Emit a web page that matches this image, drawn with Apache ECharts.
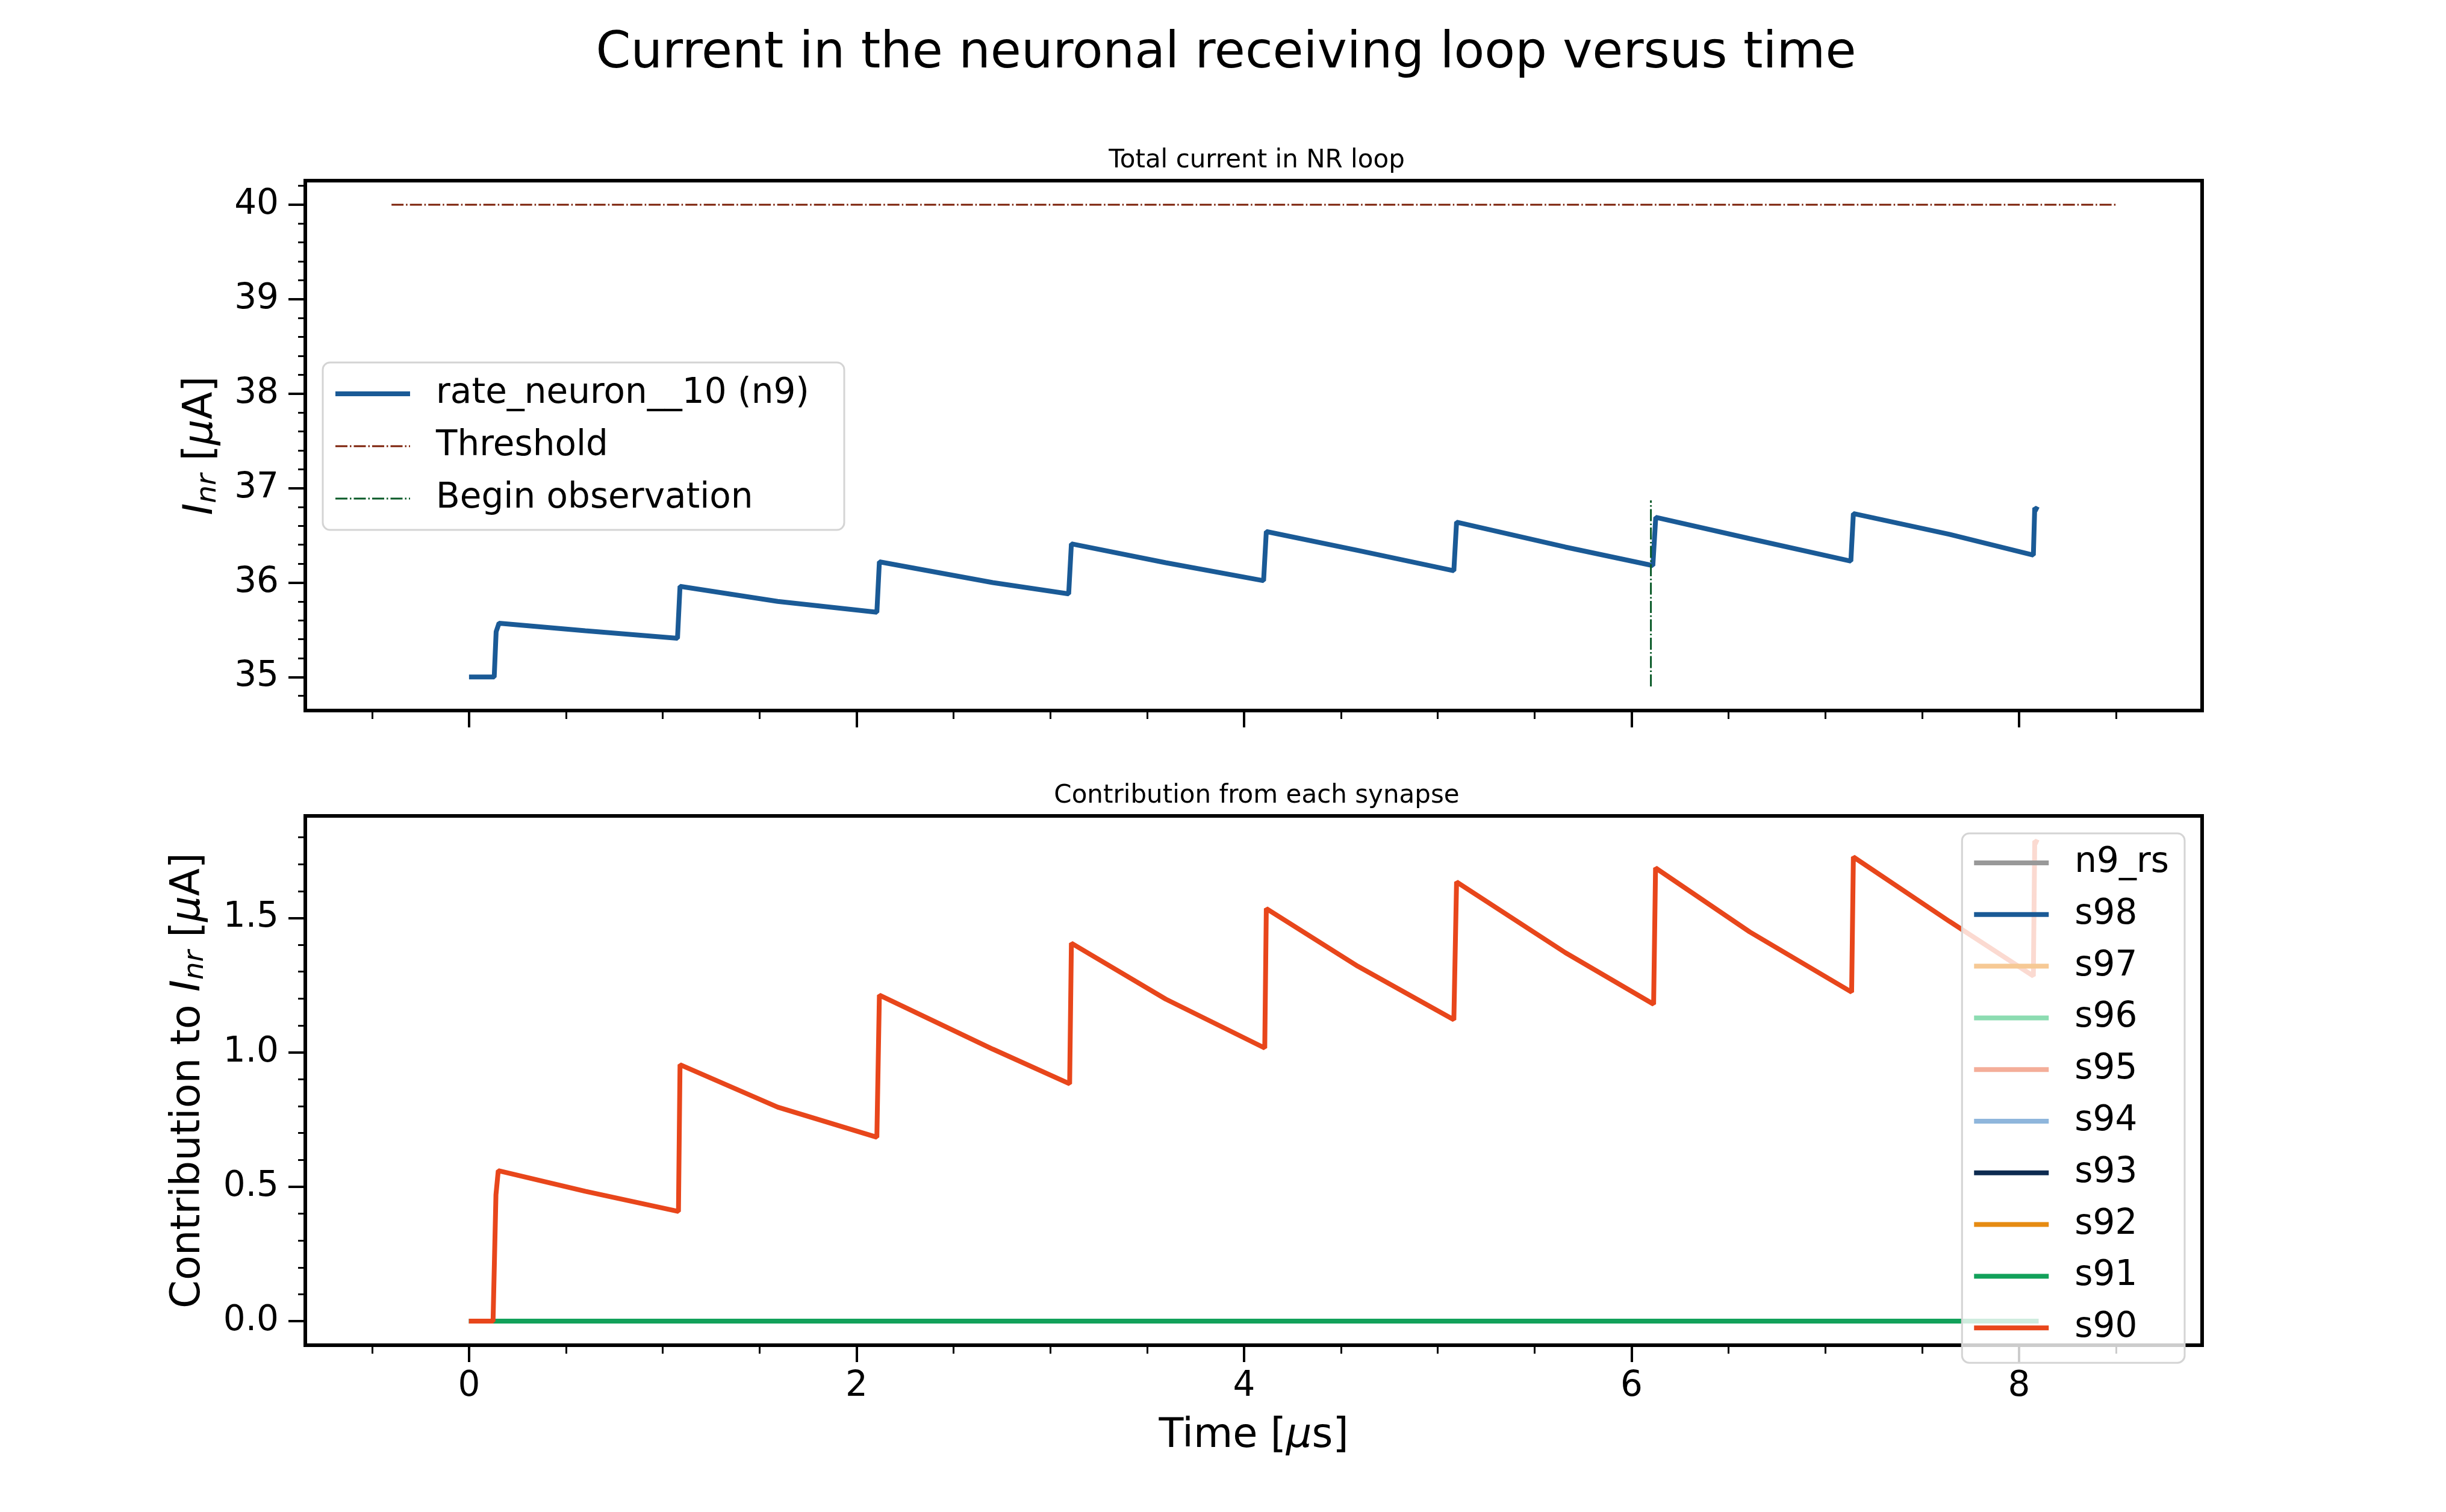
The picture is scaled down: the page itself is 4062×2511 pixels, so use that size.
<!DOCTYPE html>
<html>
<head>
<meta charset="utf-8">
<script src="https://cdn.jsdelivr.net/npm/echarts@6/dist/echarts.min.js"></script>
<style>
html,body{margin:0;padding:0;background:#fff;}
#chart{width:4062px;height:2511px;}
</style>
</head>
<body>
<div id="chart"></div>
<script>
// ---- data ----
const n9Time = [0, 0.13, 0.14, 0.155, 0.60, 1.076, 1.089, 1.593, 2.105, 2.118, 2.703, 3.095, 3.109, 3.596, 4.101, 4.115, 4.588, 5.083, 5.097, 5.658, 6.110, 6.125, 6.61, 7.132, 7.145, 7.641, 8.074, 8.081, 8.10];
const n9Current = [35.0, 35.0, 35.48, 35.57, 35.49, 35.41, 35.96, 35.80, 35.686, 36.22, 36.00, 35.88, 36.41, 36.21, 36.02, 36.54, 36.34, 36.125, 36.64, 36.376, 36.18, 36.69, 36.465, 36.227, 36.73, 36.51, 36.29, 36.79, 36.77];
const thresholdTime = [-0.4, 8.5];
const thresholdValue = [40, 40];
const observationTime = [6.1, 6.1];
const observationValue = [34.9, 36.87];

const s90Time = [0, 0.124, 0.139, 0.151, 0.60, 1.081, 1.089, 1.593, 2.105, 2.118, 2.703, 3.10, 3.109, 3.596, 4.107, 4.115, 4.588, 5.083, 5.097, 5.658, 6.114, 6.124, 6.61, 7.136, 7.145, 7.641, 8.074, 8.081, 8.10];
const s90Value = [0, 0, 0.47, 0.56, 0.483, 0.408, 0.954, 0.796, 0.684, 1.213, 1.012, 0.883, 1.406, 1.198, 1.016, 1.535, 1.320, 1.121, 1.634, 1.371, 1.179, 1.686, 1.448, 1.224, 1.727, 1.487, 1.284, 1.786, 1.78];
const zeroTime = [0, 8.1];
const zeroValue = [0, 0];

const synapseNames = ['n9_rs', 's98', 's97', 's96', 's95', 's94', 's93', 's92', 's91', 's90'];
const synapseColors = ['#999999', '#1a5a96', '#f6c995', '#8cdcb1', '#f4ae99', '#8fb6dc', '#0d2b50', '#e68b12', '#12a15a', '#e8461b'];

const xMajorTicks = [0, 2, 4, 6, 8];
const xMinorTicks = [-0.5, 0.5, 1, 1.5, 2.5, 3, 3.5, 4.5, 5, 5.5, 6.5, 7, 7.5, 8.5];
const yTopMajorTicks = [35, 36, 37, 38, 39, 40];
const yTopMinorTicks = [34.8, 35.2, 35.4, 35.6, 35.8, 36.2, 36.4, 36.6, 36.8, 37.2, 37.4, 37.6, 37.8, 38.2, 38.4, 38.6, 38.8, 39.2, 39.4, 39.6, 39.8, 40.2];
const yBotMajorTicks = [0, 0.5, 1.0, 1.5];
const yBotMinorTicks = [0.1, 0.2, 0.3, 0.4, 0.6, 0.7, 0.8, 0.9, 1.1, 1.2, 1.3, 1.4, 1.6, 1.7, 1.8];

// ---- helpers ----
const zip = (xs, ys) => xs.map((x, i) => [x, ys[i]]);
const FONT = 'DejaVu Sans';
const X_MIN = -0.845, X_MAX = 8.945;
const DASHDOT = [20, 4, 2.5, 4];
const LW = 8;
const ICON_SOLID = 'path://M0,0h124v8h-124z';
const ICON_DASHDOT = 'path://M0,0h0.01v0.01h-0.01z M123.99,7.99h0.01v0.01h-0.01z M0,2.5h20v3h-20z M24,2.5h2.5v3h-2.5z M30.5,2.5h20v3h-20z M54.5,2.5h2.5v3h-2.5z M61,2.5h20v3h-20z M85,2.5h2.5v3h-2.5z M91.5,2.5h20v3h-20z M115.5,2.5h2.5v3h-2.5z M122,2.5h2v3h-2z';

const richName = {
  it: { fontSize: 67, fontFamily: FONT, fontStyle: 'italic', color: '#000', lineHeight: 67 },
  sub: { fontSize: 47, fontFamily: FONT, fontStyle: 'italic', color: '#000', lineHeight: 47, padding: [22, 0, 0, 0] }
};

function xAxisPair(gridIndex, showLabels) {
  return [
    {
      type: 'value', gridIndex: gridIndex, min: X_MIN, max: X_MAX, position: 'bottom',
      axisLine: { show: false, onZero: false },
      splitLine: { show: false },
      axisTick: { show: true, customValues: xMajorTicks, length: 28, lineStyle: { color: '#000', width: 4 } },
      axisLabel: { show: showLabels, customValues: xMajorTicks, margin: 40, fontSize: 58, fontFamily: FONT, color: '#000' },
      name: showLabels ? 'Time [{it|μ}s]' : '', nameLocation: 'middle', nameGap: 118,
      nameTextStyle: { fontSize: 67, fontFamily: FONT, color: '#000', lineHeight: 67, rich: richName }
    },
    {
      type: 'value', gridIndex: gridIndex, min: X_MIN, max: X_MAX, position: 'bottom',
      axisLine: { show: false, onZero: false },
      splitLine: { show: false },
      axisTick: { show: true, customValues: xMinorTicks, length: 14, lineStyle: { color: '#000', width: 3 } },
      axisLabel: { show: false }
    }
  ];
}

function yAxisPair(gridIndex, min, max, majors, minors, name, gap, fmt) {
  return [
    {
      type: 'value', gridIndex: gridIndex, min: min, max: max, position: 'left',
      axisLine: { show: false, onZero: false },
      splitLine: { show: false },
      axisTick: { show: true, customValues: majors, length: 28, lineStyle: { color: '#000', width: 4 } },
      axisLabel: { show: true, customValues: majors, margin: 44, fontSize: 58, fontFamily: FONT, color: '#000', formatter: fmt },
      name: name, nameLocation: 'middle', nameGap: gap,
      nameTextStyle: { fontSize: 67, fontFamily: FONT, color: '#000', lineHeight: 67, rich: richName }
    },
    {
      type: 'value', gridIndex: gridIndex, min: min, max: max, position: 'left',
      axisLine: { show: false, onZero: false },
      splitLine: { show: false },
      axisTick: { show: true, customValues: minors, length: 12, lineStyle: { color: '#000', width: 3 } },
      axisLabel: { show: false }
    }
  ];
}

const series = [
  {
    name: 'rate_neuron__10 (n9)', type: 'line', xAxisIndex: 0, yAxisIndex: 0,
    data: zip(n9Time, n9Current), symbol: 'none', lineStyle: { color: '#1a5a96', width: LW }, itemStyle: { color: '#1a5a96' }, z: 3
  },
  {
    name: 'Threshold', type: 'line', xAxisIndex: 0, yAxisIndex: 0,
    data: zip(thresholdTime, thresholdValue), symbol: 'none', lineStyle: { color: '#7b1f07', width: 3, type: DASHDOT }, itemStyle: { color: '#7b1f07' }
  },
  {
    name: 'Begin observation', type: 'line', xAxisIndex: 0, yAxisIndex: 0,
    data: zip(observationTime, observationValue), symbol: 'none', lineStyle: { color: '#0a5a28', width: 3, type: DASHDOT }, itemStyle: { color: '#0a5a28' }, z: 4
  }
];
synapseNames.forEach((nm, i) => {
  const isS90 = nm === 's90';
  series.push({
    name: nm, type: 'line', xAxisIndex: 2, yAxisIndex: 2,
    data: isS90 ? zip(s90Time, s90Value) : zip(zeroTime, zeroValue),
    symbol: 'none', lineStyle: { color: synapseColors[i], width: LW }, itemStyle: { color: synapseColors[i] },
    z: 2 + i * 0.01
  });
});

const legendCommon = {
  orient: 'vertical', itemWidth: 124, itemHeight: 8,
  backgroundColor: 'rgba(255,255,255,0.8)', borderColor: '#d4d4d4', borderWidth: 3, borderRadius: 12,
  textStyle: { fontSize: 58, fontFamily: FONT, color: '#000', lineHeight: 58, padding: [0, 0, 0, 38] },
  selectedMode: false
};

const option = {
  animation: false,
  backgroundColor: '#fff',
  title: [
    { text: 'Current in the neuronal receiving loop versus time', left: 2031, top: 44, textAlign: 'center',
      textStyle: { fontSize: 83, fontWeight: 'normal', fontFamily: FONT, color: '#000', lineHeight: 83 } },
    { text: 'Total current in NR loop', left: 2082, top: 241, textAlign: 'center',
      textStyle: { fontSize: 42, fontWeight: 'normal', fontFamily: FONT, color: '#000', lineHeight: 42 } },
    { text: 'Contribution from each synapse', left: 2082, top: 1296, textAlign: 'center',
      textStyle: { fontSize: 42, fontWeight: 'normal', fontFamily: FONT, color: '#000', lineHeight: 42 } }
  ],
  grid: [
    { left: 507, right: 405, top: 300, height: 880, show: true, borderColor: '#000', borderWidth: 6, backgroundColor: 'transparent', containLabel: false },
    { left: 507, right: 405, top: 1355, height: 879, show: true, borderColor: '#000', borderWidth: 6, backgroundColor: 'transparent', containLabel: false }
  ],
  xAxis: [].concat(xAxisPair(0, false), xAxisPair(1, true)),
  yAxis: [].concat(
    yAxisPair(0, 34.645, 40.255, yTopMajorTicks, yTopMinorTicks, '{it|I}{sub|nr} [{it|μ}A]', 139, v => String(Math.round(v))),
    yAxisPair(1, -0.0895, 1.8795, yBotMajorTicks, yBotMinorTicks, 'Contribution to {it|I}{sub|nr} [{it|μ}A]', 160, v => v.toFixed(1))
  ),
  legend: [
    Object.assign({}, legendCommon, {
      data: [
        { name: 'rate_neuron__10 (n9)', icon: ICON_SOLID },
        { name: 'Threshold', icon: ICON_DASHDOT },
        { name: 'Begin observation', icon: ICON_DASHDOT }
      ],
      left: 536, top: 602, itemGap: 29, padding: [23, 58, 23, 21]
    }),
    Object.assign({}, legendCommon, {
      data: synapseNames.map(nm => ({ name: nm, icon: ICON_SOLID })),
      right: 434, top: 1384, itemGap: 27.8, padding: [20, 26, 29, 20]
    })
  ],
  series: series
};

const chart = echarts.init(document.getElementById('chart'), null, { renderer: 'canvas' });
chart.setOption(option);
</script>
</body>
</html>
